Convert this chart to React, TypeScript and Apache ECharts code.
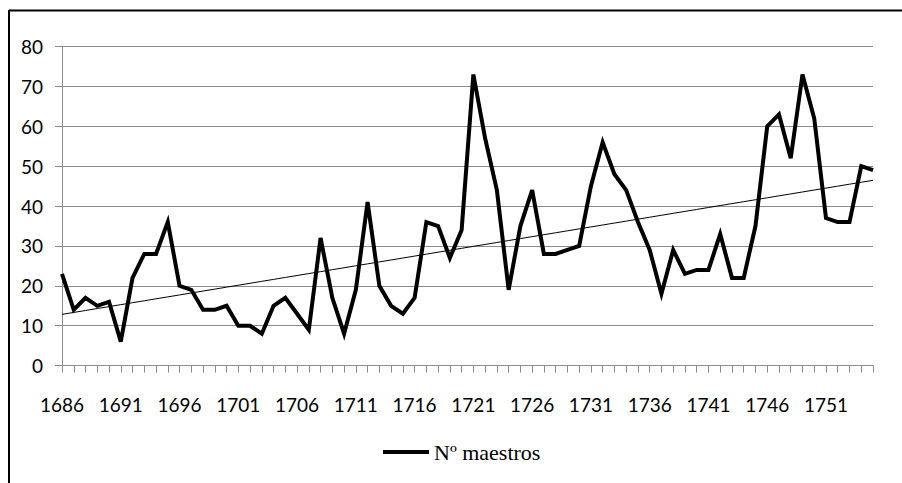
import React, { useEffect, useRef } from "react";
import * as echarts from "echarts";

const years: string[] = [
  "1686","1687","1688","1689","1690","1691","1692","1693","1694","1695",
  "1696","1697","1698","1699","1700","1701","1702","1703","1704","1705",
  "1706","1707","1708","1709","1710","1711","1712","1713","1714","1715",
  "1716","1717","1718","1719","1720","1721","1722","1723","1724","1725",
  "1726","1727","1728","1729","1730","1731","1732","1733","1734","1735",
  "1736","1737","1738","1739","1740","1741","1742","1743","1744","1745",
  "1746","1747","1748","1749","1750","1751","1752","1753","1754","1755",
];

const maestros: number[] = [
  23, 14, 17, 15, 16, 6, 22, 28, 28, 36,
  20, 19, 14, 14, 15, 10, 10, 8, 15, 17,
  13, 9, 32, 17, 8, 19, 41, 20, 15, 13,
  17, 36, 35, 27, 34, 73, 57, 44, 19, 35,
  44, 28, 28, 29, 30, 45, 56, 48, 44, 36,
  29, 18, 29, 23, 24, 24, 33, 22, 22, 35,
  60, 63, 52, 73, 62, 37, 36, 36, 50, 49,
];

const seriesName = "Nº maestros";
const yTicks = { min: 0, max: 80, interval: 10 };

// Linear trendline (least squares) derived from the data, as in the original spreadsheet chart
function trend(values: number[]): number[] {
  const n = values.length;
  let sx = 0, sy = 0, sxy = 0, sxx = 0;
  values.forEach((v, i) => { sx += i; sy += v; sxy += i * v; sxx += i * i; });
  const b = (n * sxy - sx * sy) / (n * sxx - sx * sx);
  const a = (sy - b * sx) / n;
  return values.map((_, i) => a + b * i);
}

export default function App() {
  const ref = useRef<HTMLDivElement>(null);
  useEffect(() => {
    if (!ref.current) return;
    const chart = echarts.init(ref.current, null, { renderer: "svg" });
    const gray = "#8c8c8c";
    const labelFont = "Lato";
    chart.setOption({
      animation: false,
      backgroundColor: "#ffffff",
      grid: { left: 62, right: 29, top: 46.6, bottom: 117.4, containLabel: false },
      xAxis: {
        type: "category",
        data: years,
        boundaryGap: false,
        axisLine: { show: true, lineStyle: { color: gray, width: 1 } },
        axisTick: { show: true, interval: 0, length: 7, inside: false, lineStyle: { color: gray } },
        axisLabel: { interval: 4, margin: 29, color: "#000", fontSize: 19, fontFamily: labelFont },
        splitLine: { show: false },
      },
      yAxis: {
        type: "value",
        min: yTicks.min,
        max: yTicks.max,
        interval: yTicks.interval,
        axisLine: { show: true, lineStyle: { color: gray, width: 1 } },
        axisTick: { show: true, length: 7, inside: false, lineStyle: { color: gray } },
        axisLabel: { margin: 19, color: "#000", fontSize: 19, fontFamily: labelFont },
        splitLine: { show: true, lineStyle: { color: gray, width: 1 } },
      },
      legend: {
        data: [seriesName],
        left: 383,
        top: 441,
        padding: 0,
        icon: "rect",
        itemWidth: 46,
        itemHeight: 4,
        textStyle: { fontFamily: "Times New Roman, Liberation Serif, DejaVu Serif, serif", fontSize: 22, color: "#000" },
      },
      series: [
        {
          name: seriesName,
          type: "line",
          data: maestros,
          symbol: "none",
          color: "#000",
          lineStyle: { color: "#000", width: 4, join: "miter" },
          z: 3,
        },
        {
          name: "trend",
          type: "line",
          data: trend(maestros),
          symbol: "none",
          color: "#000",
          lineStyle: { color: "#000", width: 1 },
          silent: true,
          z: 2,
        },
      ],
      graphic: [
        { type: "line", shape: { x1: 9, y1: 10.5, x2: 902, y2: 10.5 }, style: { stroke: "#000", lineWidth: 2 } },
        { type: "line", shape: { x1: 9, y1: 10, x2: 9, y2: 483 }, style: { stroke: "#000", lineWidth: 2 } },
      ],
    });
    return () => chart.dispose();
  }, []);
  return (
    <div
      ref={ref}
      style={{ position: "absolute", left: 0, top: 0, width: 902, height: 483 }}
    />
  );
}
